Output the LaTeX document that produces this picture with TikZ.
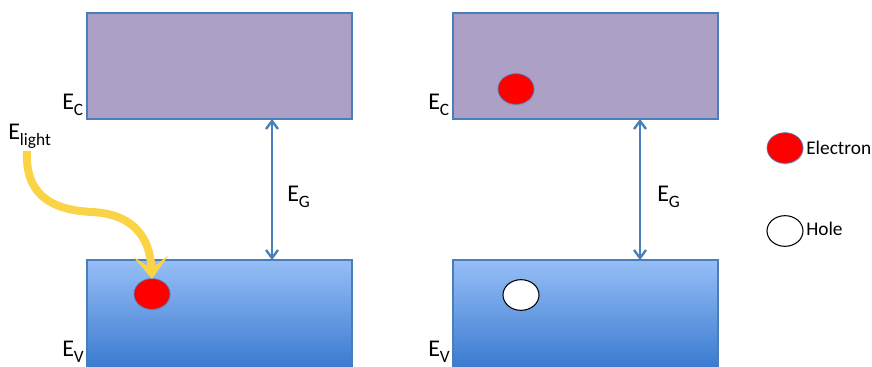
\documentclass[tikz,border=0pt]{standalone}
\usepackage{fontspec}
\setmainfont{Carlito}
\usetikzlibrary{arrows.meta,shadows,shapes.geometric}
\definecolor{cband}{RGB}{173,160,198}
\definecolor{bedge}{RGB}{74,126,187}
\definecolor{vtop}{RGB}{150,190,246}
\definecolor{vbot}{RGB}{58,122,208}
\definecolor{lightY}{RGB}{250,212,70}
\newcommand{\lbl}[1]{{\fontsize{18}{20}\selectfont E\raisebox{-4.5pt}{\fontsize{13}{14}\selectfont #1}}}
\begin{document}
\begin{tikzpicture}[x=0.75pt,y=-0.75pt,
  cbandbox/.style={draw=bedge,line width=0.8pt,fill=cband},
  vbandbox/.style={draw=bedge,line width=0.8pt,top color=vtop,bottom color=vbot},
  elec/.style={ellipse,draw=bedge,line width=0.5pt,fill=red,minimum width=27pt,minimum height=23pt,inner sep=0pt,drop shadow={opacity=0.25,shadow xshift=0.5pt,shadow yshift=-1pt}},
  holec/.style={ellipse,draw=black,line width=0.8pt,fill=white,minimum width=27pt,minimum height=23pt,inner sep=0pt},
  gaparrow/.style={draw=bedge,line width=1.8pt,{Straight Barb[length=6pt,width=9pt]}-{Straight Barb[length=6pt,width=9pt]}},
  lab/.style={inner sep=0pt,anchor=base west},
  leg/.style={inner sep=0pt,anchor=west,font=\fontsize{14.5}{16}\selectfont}]
\useasboundingbox (0,0) rectangle (872,367);
% left diagram
\path[cbandbox] (87,13) rectangle (352,119);
\node[coordinate] (lct) at (272,119) {};
\node[coordinate] (lvt) at (272,260) {};
\path[vbandbox] (87,260) rectangle (352,368);
\node[lab] (lec) at (62,110) {\lbl{C}};
\node[lab] (lev) at (62,357) {\lbl{V}};
\node[lab] (lel) at (8,140) {\lbl{light}};
\draw[gaparrow] (lct) -- (lvt);
\node[lab] (leg) at (287,202) {\lbl{G}};
\node[elec] (le) at (152,294) {};
\coordinate (ys) at (27,151);
\coordinate (ye) at (152,279);
\draw[lightY,line width=6pt,-{Stealth[length=17pt,width=26pt,inset=9pt]}]
  (ys) .. controls (25,192) and (48,210) .. (92,212)
       .. controls (132,214) and (150,236) .. (ye);
% right diagram
\path[cbandbox] (453,13) rectangle (718,119);
\node[coordinate] (rct) at (640,119) {};
\node[coordinate] (rvt) at (640,260) {};
\path[vbandbox] (453,260) rectangle (718,368);
\node[lab] (rec) at (428,110) {\lbl{C}};
\node[lab] (rev) at (428,357) {\lbl{V}};
\draw[gaparrow] (rct) -- (rvt);
\node[lab] (reg) at (657,202) {\lbl{G}};
\node[elec] (re) at (516,89) {};
\node[holec] (rh) at (521,295) {};
% legend
\node[elec] (ge) at (785,148) {};
\node[leg] (get) at (806,148) {Electron};
\node[holec] (gh) at (785,231) {};
\node[leg] (ght) at (806,229) {Hole};
\end{tikzpicture}
\end{document}
